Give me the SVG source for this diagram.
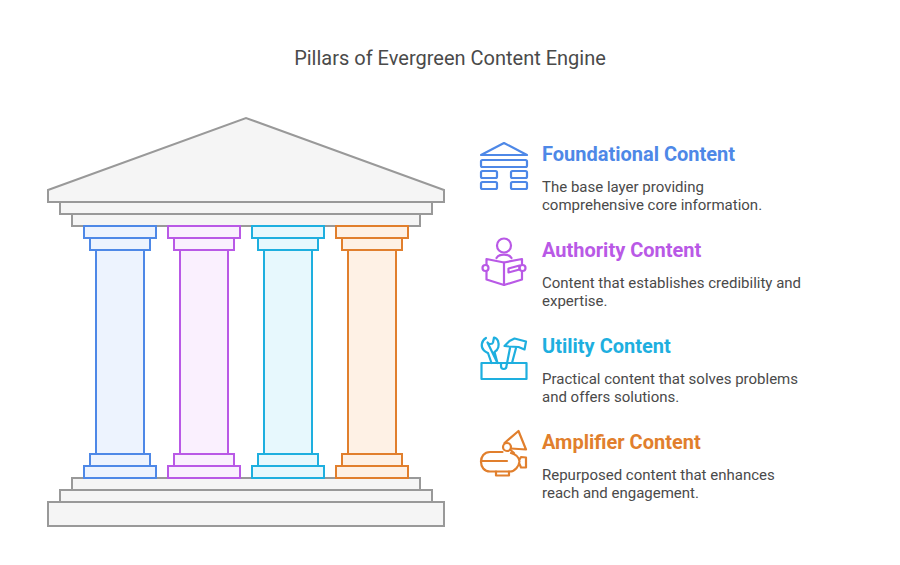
<svg xmlns="http://www.w3.org/2000/svg" width="900" height="565" viewBox="0 0 900 565">
<style>
.g{fill:#f5f5f5;stroke:#999;stroke-width:2}
.t{font-family:Roboto,"Liberation Sans",sans-serif}
.title{font-size:20px;fill:#4a4a4a}
.h{font-size:20px;font-weight:700}
.b{font-size:15px;fill:#4a4a4a}
.i{fill:none;stroke-width:2.2;stroke-linecap:round;stroke-linejoin:round}
.blue{fill:#edf3fe;stroke:#4e88e7;stroke-width:2}
.purple{fill:#faf0fe;stroke:#b959e6;stroke-width:2}
.cyan{fill:#e7f8fd;stroke:#1eafdf;stroke-width:2}
.orange{fill:#fef1e5;stroke:#e17f2d;stroke-width:2}
</style>
<rect width="900" height="565" fill="#fff"/>
<text class="t title" x="450" y="65" text-anchor="middle">Pillars of Evergreen Content Engine</text>
<g id="temple">
<rect class="g" x="48" y="502" width="396" height="24"/>
<rect class="g" x="60" y="490" width="372" height="12"/>
<rect class="g" x="72" y="478" width="348" height="12"/>
<rect class="g" x="72" y="214" width="348" height="12"/>
<rect class="g" x="60" y="202" width="372" height="12"/>
<path class="g" d="M48 190L246 118L444 190V202H48Z"/>
</g>
<defs>
<g id="col">
<rect x="36" y="24" width="48" height="204"/>
<rect x="24" y="0" width="72" height="12"/>
<rect x="30" y="12" width="60" height="12"/>
<rect x="30" y="228" width="60" height="12"/>
<rect x="24" y="240" width="72" height="12"/>
</g>
</defs>
<g id="pillar-foundational" class="blue"><use href="#col" x="60" y="226"/></g>
<g id="pillar-authority" class="purple"><use href="#col" x="144" y="226"/></g>
<g id="pillar-utility" class="cyan"><use href="#col" x="228" y="226"/></g>
<g id="pillar-amplifier" class="orange"><use href="#col" x="312" y="226"/></g>
<g id="foundational">
<g class="i" stroke="#4e88e7">
<path d="M481 155L504 143L527 155Z"/>
<rect x="481" y="160" width="46" height="7" rx="1.500"/>
<rect x="481" y="171" width="16" height="7" rx="1.500"/>
<rect x="511" y="171" width="16" height="7" rx="1.500"/>
<rect x="481" y="182" width="16" height="7" rx="1.500"/>
<rect x="511" y="182" width="16" height="7" rx="1.500"/>
</g>
<text class="t h" x="542" y="161" fill="#4e88e7">Foundational Content</text>
<text class="t b" x="542" y="192">The base layer providing</text>
<text class="t b" x="542" y="210">comprehensive core information.</text>
</g>
<g id="authority">
<g class="i" stroke="#b959e6">
<circle cx="504" cy="245.500" r="7"/>
<path d="M496.500 258C499 253.500 509 253.500 511.500 258"/>
<path d="M486.500 265V259L504 262.500L522 259V265M522 271V279.500L504 285L486.500 279.500V271"/>
<path d="M504 262.500V285"/>
<circle cx="485.500" cy="268" r="3"/>
<circle cx="522.500" cy="268" r="3"/>
<path d="M508.500 268.500L519.500 265.500V269.500L508.500 272.500Z"/>
</g>
<text class="t h" x="542" y="257" fill="#b959e6">Authority Content</text>
<text class="t b" x="542" y="288">Content that establishes credibility and</text>
<text class="t b" x="542" y="306">expertise.</text>
</g>
<g id="utility">
<g class="i" stroke="#1eafdf">
<path d="M481.500 363H526.500V379H481.500Z"/>
<path d="M486 338C481 341 480.500 347 484 350.500C485.500 352 487 352.500 488 353L491.500 363M497.500 363L494.500 352C498.500 350 499.500 345 498 341C497.500 339.500 496 338 494 337.500L493 342.500C492.500 344.500 488.500 344.500 487.500 342.500Z"/>
<path d="M501 363V366C501 370 506.500 370 506.500 366L510 348"/>
<path d="M516 348L512 363"/>
<path d="M504.500 346L509.500 341L514.500 338.500L526 341.500L524.500 349.500L518.500 347L509 346.500Z"/>
</g>
<text class="t h" x="542" y="353" fill="#1eafdf">Utility Content</text>
<text class="t b" x="542" y="384">Practical content that solves problems</text>
<text class="t b" x="542" y="402">and offers solutions.</text>
</g>
<g id="amplifier">
<g class="i" stroke="#e17f2d">
<path d="M502.500 452H490C478 452 478 471.500 490 471.500H510C515 471.500 519 466 519.500 461.500C519 457 515 454 511 453"/>
<path d="M481 461H507"/>
<path d="M519.500 459.500L521 457L526 457.500V467.500H521L519.500 464"/>
<path d="M496 471.500V475.500H509V471.500"/>
<path d="M504.500 443L518.500 431L526 449.500L511 448.500"/>
<circle cx="507" cy="447" r="4"/>
<path d="M510.500 450L514 453"/>
</g>
<text class="t h" x="542" y="449" fill="#e17f2d">Amplifier Content</text>
<text class="t b" x="542" y="480">Repurposed content that enhances</text>
<text class="t b" x="542" y="498">reach and engagement.</text>
</g>
</svg>
